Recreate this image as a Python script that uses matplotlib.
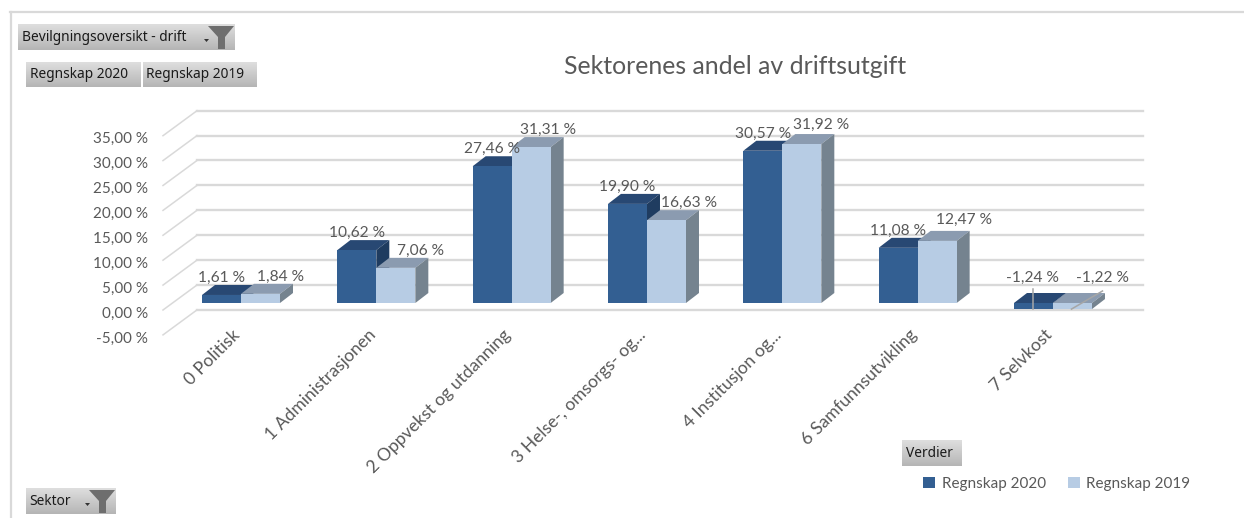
import numpy as np
import matplotlib
matplotlib.use('Agg')
import matplotlib.pyplot as plt
from matplotlib.transforms import ScaledTranslation

sektorer = ["0 Politisk", "1 Administrasjonen", "2 Oppvekst og utdanning", "3 Helse-, omsorgs- og...",
            "4 Institusjon og...", "6 Samfunnsutvikling", "7 Selvkost"]
regnskap_2020 = [1.61, 10.62, 27.46, 19.90, 30.57, 11.08, -1.24]
regnskap_2019 = [1.84, 7.06, 31.31, 16.63, 31.92, 12.47, -1.22]
y_ticks = [-5, 0, 5, 10, 15, 20, 25, 30, 35]

W = 1244
H = 518
DPI = 100
GRAY = '#595959'
GRID = '#D9D9D9'
px = 72.0 / DPI  # pixels to points

# bar faces: front, top, side
MORK = ('#335F92', '#284873', '#1F3C60')
LYS = ('#B7CCE4', '#8B9BB0', '#75838F')

# moved data labels, pixels from the middle of the bar top
dx_2020 = [0, 0, 0, 0, 0, 0, -1]
dx_2019 = [20, 25, 17, 23, 19, 27, 30]


def px_axes(fig, x0, y0, x1, y1):
    return fig.add_axes([x0 / W, 1 - y1 / H, (x1 - x0) / W, (y1 - y0) / H])


def knapp(fig, x0, y0, x1, y1, tekst, filter=False):
    a = px_axes(fig, x0, y0, x1, y1)
    grad = np.linspace(0.87, 0.71, 40).reshape(-1, 1)
    a.imshow(grad, cmap='gray', vmin=0, vmax=1, aspect='auto', extent=(x0, x1, y1, y0))
    a.set_xlim(x0, x1)
    a.set_ylim(y1, y0)
    a.axis('off')
    a.text(x0 + 3.5, (y0 + y1) / 2 + 0.5, tekst, fontsize=9.9, family='Noto Sans', color='#1a1a1a',
           ha='left', va='center')
    if filter:
        a.fill([x1 - 27, x1 - 1, x1 - 10, x1 - 10, x1 - 17, x1 - 17],
               [y0 + 2, y0 + 2, y0 + 13, y1 - 1, y1 - 1, y0 + 13], color='#6E6E6E', lw=0)
        a.fill([x1 - 31, x1 - 26, x1 - 28.5], [y0 + 15, y0 + 15, y0 + 18], color='#333333', lw=0)


fig = plt.figure(figsize=(W / DPI, H / DPI), dpi=DPI, facecolor='white')

# frame round the chart
fig.add_artist(plt.Line2D([10 / W, 1], [1 - 12 / H, 1 - 12 / H], color=GRID, lw=1.6))
fig.add_artist(plt.Line2D([11 / W, 11 / W], [1 - 12 / H, 0], color=GRID, lw=1.6))

ax = px_axes(fig, 163, 112, 1143, 335)
ax.patch.set_alpha(0)
step = 135.33
ax.set_xlim((163 - 241) / step, (1143 - 241) / step)
px_y = 5 / 24.9
ax.set_ylim((303 - 335) * px_y, (303 - 112) * px_y)

x = np.arange(len(sektorer))
w = 39 / step
dx = 13 / step
dy = 10 * px_y

# walls: floor depth of the grid is 34 px across, 25 px up
vegg_x = 34 / step
for v in y_ticks:
    front = v - 7 * px_y
    ax.plot([ax.get_xlim()[0], ax.get_xlim()[0] + vegg_x], [front, front + 25 * px_y],
            color=GRID, lw=1.1, clip_on=False, zorder=1)
    ax.plot([ax.get_xlim()[0] + vegg_x, ax.get_xlim()[1]], [front + 25 * px_y, front + 25 * px_y],
            color=GRID, lw=1.7, clip_on=False, zorder=1)


def stolper(xs, verdier, farger, z, navn):
    bars = ax.bar(xs, verdier, width=w, color=farger[0], zorder=z + 2, label=navn, clip_on=False)
    for b, v in zip(bars, verdier):
        x0 = b.get_x()
        x1 = x0 + b.get_width()
        topp = max(v, 0)
        bunn = min(v, 0)
        ax.fill([x0, x1, x1 + dx, x0 + dx], [topp, topp, topp + dy, topp + dy],
                color=farger[1], lw=0, zorder=z, clip_on=False)
        ax.fill([x1, x1 + dx, x1 + dx, x1], [topp, topp + dy, bunn + dy, bunn],
                color=farger[2], lw=0, zorder=z + 1, clip_on=False)


stolper(x - w / 2, regnskap_2020, MORK, 3, 'Regnskap 2020')
stolper(x + w / 2, regnskap_2019, LYS, 6, 'Regnskap 2019')


def etikett(xp, v, flytt):
    tekst = ('%.2f %%' % v).replace('.', ',')
    over = 25 if v < 0 else 17
    if v > 31.5:
        over = 19
    if 12 < v < 13:
        over = 21
    ax.annotate(tekst, (xp, max(v, 0)), xytext=(flytt * px, over * px), textcoords='offset points',
                ha='center', va='center', fontsize=11.2, family='Lato', color=GRAY, zorder=20,
                annotation_clip=False)


for i in x:
    etikett(i - w / 2, regnskap_2020[i], dx_2020[i])
    etikett(i + w / 2, regnskap_2019[i], dx_2019[i])

# leader lines of the two moved labels
siste = x[-1]
ax.plot([siste - w / 2, siste - w / 2], [0.0 + 14 * px_y, regnskap_2020[-1]], color='#A6A6A6', lw=1.1,
        zorder=21, clip_on=False)
ax.plot([siste + w / 2 - 1 / step, siste + w / 2 + 30 / step], [regnskap_2019[-1], 12 * px_y],
        color='#A6A6A6', lw=1.1, zorder=21, clip_on=False)

for s in ax.spines.values():
    s.set_visible(False)
ax.set_yticks(y_ticks)
ax.set_yticklabels([('%.2f %%' % v).replace('.', ',') for v in y_ticks], fontsize=11, family='Lato', color=GRAY)
ax.set_xticks(x)
ax.set_xticklabels(sektorer, fontsize=12.6, family='Lato', color=GRAY, rotation=45, ha='right',
                   rotation_mode='anchor')
ax.tick_params(axis='both', length=0)
ax.tick_params(axis='y', pad=15 * px)
ax.tick_params(axis='x', pad=-1)
ned = ScaledTranslation(0, -9 / DPI, fig.dpi_scale_trans)
for t in ax.get_yticklabels():
    t.set_transform(t.get_transform() + ned)
venstre = ScaledTranslation(-9 / DPI, 7 / DPI, fig.dpi_scale_trans)
for t in ax.get_xticklabels():
    t.set_transform(t.get_transform() + venstre)

fig.text(735 / W, 1 - 67 / H, 'Sektorenes andel av driftsutgift', fontsize=17.9, family='Lato', color=GRAY,
         ha='center', va='center')

ax.legend(loc='center', bbox_to_anchor=(1057 / W, 1 - 484 / H), bbox_transform=fig.transFigure, ncol=2,
          frameon=False, prop={'family': 'Lato', 'size': 11}, labelcolor=GRAY, handlelength=0.75,
          handleheight=0.75, handletextpad=0.45, columnspacing=1.45)

knapp(fig, 18, 24, 235, 50, 'Bevilgningsoversikt - drift', filter=True)
knapp(fig, 26, 62, 141, 87, 'Regnskap 2020')
knapp(fig, 143, 62, 257, 87, 'Regnskap 2019')
knapp(fig, 26, 488, 116, 514, 'Sektor', filter=True)
knapp(fig, 902, 440, 962, 466, 'Verdier')

plt.savefig('out.png', dpi=DPI)
